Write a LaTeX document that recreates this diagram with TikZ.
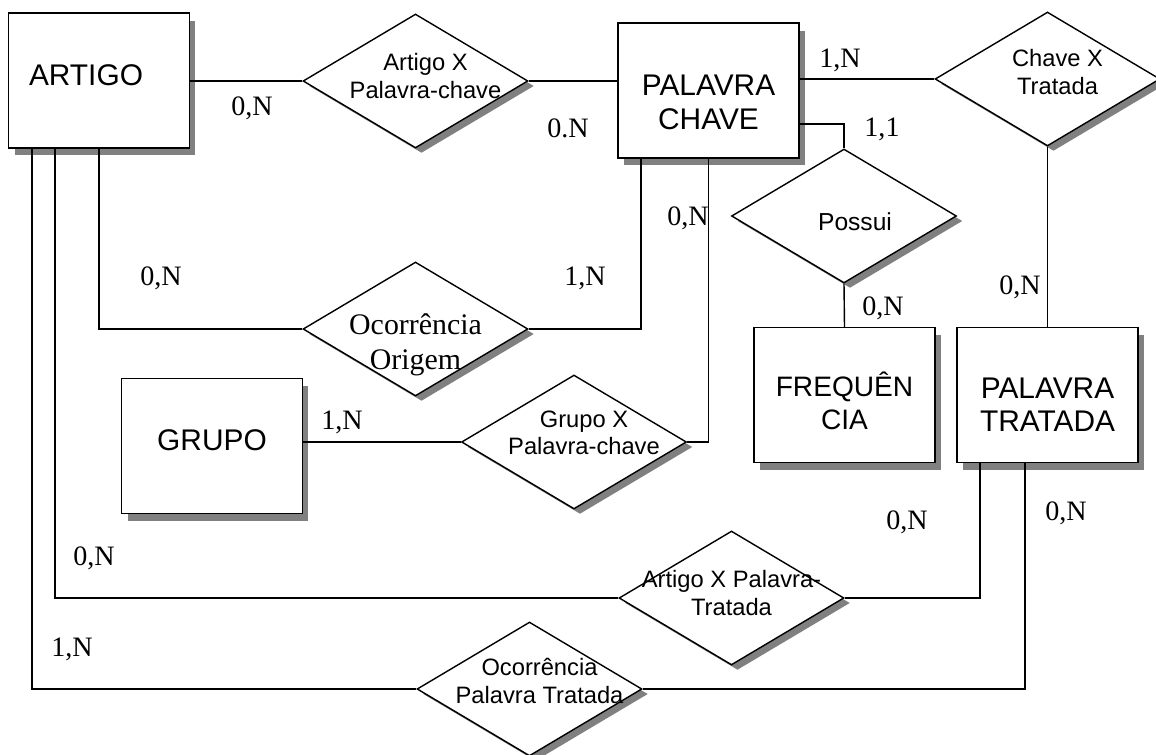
\documentclass[tikz,border=0pt]{standalone}
\usepackage{fontspec}
\setmainfont{Liberation Sans}
\newfontfamily\tms{Liberation Serif}
\usetikzlibrary{shapes.geometric,shadows}

\begin{document}
\begin{tikzpicture}[x=0.02cm,y=-0.02cm,line width=0.8pt]

    \tikzset{entidade/.style={draw,fill=white,minimum width=3.62cm,minimum height=2.7cm,
        drop shadow={shadow xshift=0.12cm,shadow yshift=-0.15cm,opacity=1,fill=black!50}}}
    \tikzset{relac/.style={draw,shape=diamond,fill=white,inner sep=0pt,
        minimum width=4.5cm,minimum height=2.68cm,
        drop shadow={shadow xshift=0.12cm,shadow yshift=-0.1cm,opacity=1,fill=black!50}}}
    \tikzset{etexto/.style={align=center,font=\fontsize{17}{19}\selectfont}}
    \tikzset{rtexto/.style={align=center,font=\fontsize{13.5}{15.5}\selectfont}}
    \tikzset{card/.style={font=\tms\fontsize{16}{19}\selectfont}}
    \useasboundingbox (0,0) rectangle (1156,754);

    \node[entidade,label={[etexto,xshift=-0.26cm,yshift=0.1cm]center:ARTIGO}] (artigo) at (99,80.5) {};
    \node[entidade,label={[etexto,yshift=-0.24cm]center:PALAVRA\\CHAVE}] (pch) at (708.5,90.5) {};
    \node[entidade,label={[etexto,font=\fontsize{16}{19}\selectfont,yshift=-0.12cm]center:FREQUÊN\\CIA}] (freq) at (844.5,395) {};
    \node[entidade,label={[etexto,yshift=-0.2cm]center:PALAVRA\\TRATADA}] (ptr) at (1047.5,395) {};
    \node[entidade,label={[etexto,yshift=0.12cm]center:GRUPO}] (grupo) at (212,446) {};

    \node[relac,label={[rtexto,xshift=0.2cm,yshift=0.1cm]center:Artigo X\\Palavra-chave}] (ap) at (415.5,81) {};
    \node[relac,label={[rtexto,xshift=0.2cm,yshift=0.14cm]center:Chave X\\Tratada}] (ct) at (1047.5,79) {};
    \node[relac,label={[rtexto,font=\fontsize{14}{16}\selectfont,xshift=0.22cm,yshift=-0.12cm]center:Possui}] (pos) at (844,216) {};
    \node[relac,label={[rtexto,font=\tms\fontsize{17}{20}\selectfont,yshift=-0.32cm]center:Ocorrência\\Origem}] (oo) at (415.5,329) {};
    \node[relac,label={[rtexto,xshift=0.2cm,yshift=0.18cm]center:Grupo X\\Palavra-chave}] (gp) at (574,442) {};
    \node[relac,label={[rtexto,yshift=0.1cm]center:Artigo X Palavra-\\Tratada}] (apt) at (731.5,598) {};
    \node[relac,label={[rtexto,xshift=0.2cm,yshift=0.16cm]center:Ocorrência\\Palavra Tratada}] (opt) at (529.5,689) {};

    % ligacoes
    \draw (artigo.east |- ap.west) -- (ap.west);
    \draw (ap.east) -- (ap.east -| pch.west);
    \draw (ct.west -| pch.east) -- (ct.west);
    \draw ([yshift=-0.67cm]pch.east) -| (pos.north);
    \draw (pos.south) -- (freq.north);
    \draw (ct.south) -- (ptr.north);
    \draw (artigo.south) |- (oo.west);
    \draw (oo.east) -| ([xshift=-1.35cm]pch.south);
    \draw (grupo.east |- gp.west) -- (gp.west);
    \draw (gp.east) -| (pch.south);
    \draw ([xshift=-0.88cm]artigo.south) |- (apt.west);
    \draw (apt.east) -| ([xshift=-1.35cm]ptr.south);
    \draw ([xshift=-1.34cm]artigo.south) |- (opt.west);
    \draw (opt.east) -| ([xshift=-0.45cm]ptr.south);

    % cardinalidades
    \node[card] (c1) at (252,108) {0,N};
    \node[card] (c2) at (568,128) {0.N};
    \node[card] (c3) at (840,60) {1,N};
    \node[card] (c4) at (882,129) {1,1};
    \node[card] (c5) at (688,218) {0,N};
    \node[card] (c6) at (161,278) {0,N};
    \node[card] (c7) at (585,278) {1,N};
    \node[card] (c8) at (883,308) {0,N};
    \node[card] (c9) at (1020,287) {0,N};
    \node[card] (c10) at (342,422) {1,N};
    \node[card] (c11) at (907,522) {0,N};
    \node[card] (c12) at (1066,513) {0,N};
    \node[card] (c13) at (94,558) {0,N};
    \node[card] (c14) at (72,649) {1,N};
\end{tikzpicture}
\end{document}
